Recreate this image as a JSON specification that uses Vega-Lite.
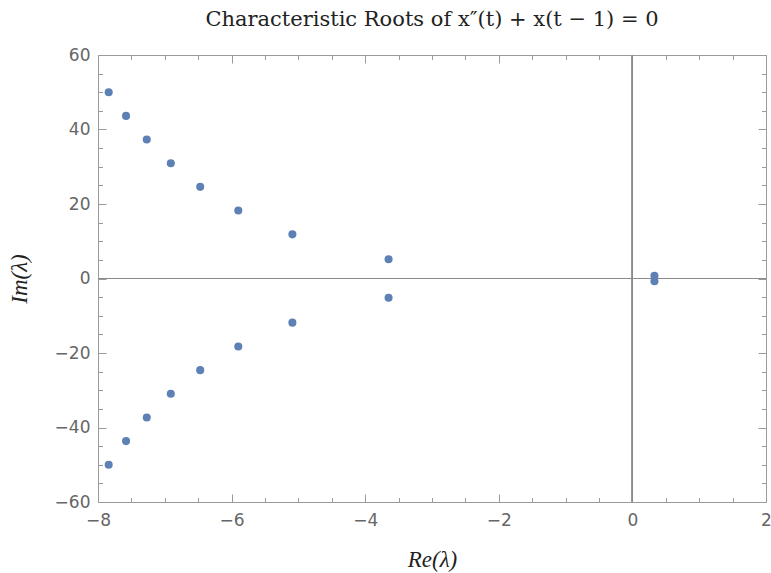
{
  "$schema": "https://vega.github.io/schema/vega-lite/v6.json",
  "width": 668,
  "height": 447,
  "autosize": {"type": "none"},
  "padding": {"left": 98, "top": 55, "right": 5, "bottom": 71},
  "background": "white",
  "config": {
    "view": {"stroke": "#9a9a9a", "strokeWidth": 1},
    "axis": {"domain": false, "grid": false, "tickColor": "#9a9a9a", "tickWidth": 1, "labelColor": "#666666", "labelFont": "DejaVu Sans", "labelFontSize": 17}
  },
  "title": {"text": "Characteristic Roots of x″(t) + x(t − 1) = 0", "font": "DejaVu Serif", "fontSize": 21, "fontWeight": "normal", "color": "#222222", "anchor": "middle", "offset": 16},
  "datasets": {
    "roots": [
      {"re": -7.84, "im": 50.0},
      {"re": -7.58, "im": 43.65},
      {"re": -7.27, "im": 37.3},
      {"re": -6.91, "im": 30.96},
      {"re": -6.47, "im": 24.6},
      {"re": -5.9, "im": 18.28},
      {"re": -5.09, "im": 11.85},
      {"re": -3.65, "im": 5.15},
      {"re": 0.33, "im": 0.76},
      {"re": -7.84, "im": -50.0},
      {"re": -7.58, "im": -43.65},
      {"re": -7.27, "im": -37.3},
      {"re": -6.91, "im": -30.96},
      {"re": -6.47, "im": -24.6},
      {"re": -5.9, "im": -18.28},
      {"re": -5.09, "im": -11.85},
      {"re": -3.65, "im": -5.15},
      {"re": 0.33, "im": -0.76}
    ]
  },
  "data": {"name": "roots"},
  "resolve": {"axis": {"x": "independent", "y": "independent"}},
  "layer": [
    {
      "mark": {"type": "rule", "color": "#8a8a8a", "strokeWidth": 1},
      "encoding": {"x": {"datum": 0, "type": "quantitative", "scale": {"domain": [-8, 2], "nice": false, "zero": false}, "axis": null}}
    },
    {
      "mark": {"type": "rule", "color": "#8a8a8a", "strokeWidth": 1},
      "encoding": {"y": {"datum": 0, "type": "quantitative", "scale": {"domain": [-60, 60], "nice": false, "zero": false}, "axis": null}}
    },
    {
      "mark": {"type": "point", "opacity": 0},
      "encoding": {
        "x": {"field": "re", "type": "quantitative", "scale": {"domain": [-8, 2], "nice": false, "zero": false}, "axis": {"orient": "bottom", "values": [-8, -6, -4, -2, 0, 2], "labels": false, "tickSize": -8, "title": null}},
        "y": {"field": "im", "type": "quantitative", "scale": {"domain": [-60, 60], "nice": false, "zero": false}, "axis": {"orient": "left", "values": [-60, -40, -20, 0, 20, 40, 60], "labels": false, "tickSize": -8, "title": null}}
      }
    },
    {
      "mark": {"type": "point", "opacity": 0},
      "encoding": {
        "x": {"field": "re", "type": "quantitative", "scale": {"domain": [-8, 2], "nice": false, "zero": false}, "axis": {"orient": "bottom", "values": [-7.5, -7, -6.5, -5.5, -5, -4.5, -3.5, -3, -2.5, -1.5, -1, -0.5, 0.5, 1, 1.5], "labels": false, "tickSize": -4.5, "title": null}},
        "y": {"field": "im", "type": "quantitative", "scale": {"domain": [-60, 60], "nice": false, "zero": false}, "axis": {"orient": "left", "values": [-55, -50, -45, -35, -30, -25, -15, -10, -5, 5, 10, 15, 25, 30, 35, 45, 50, 55], "labels": false, "tickSize": -4.5, "title": null}}
      }
    },
    {
      "mark": {"type": "point", "opacity": 0},
      "encoding": {
        "x": {"field": "re", "type": "quantitative", "scale": {"domain": [-8, 2], "nice": false, "zero": false}, "axis": {"orient": "top", "values": [-8, -6, -4, -2, 0, 2], "labels": false, "tickSize": -8, "title": null}},
        "y": {"field": "im", "type": "quantitative", "scale": {"domain": [-60, 60], "nice": false, "zero": false}, "axis": {"orient": "right", "values": [-60, -40, -20, 0, 20, 40, 60], "labels": false, "tickSize": -8, "title": null}}
      }
    },
    {
      "mark": {"type": "point", "opacity": 0},
      "encoding": {
        "x": {"field": "re", "type": "quantitative", "scale": {"domain": [-8, 2], "nice": false, "zero": false}, "axis": {"orient": "top", "values": [-7.5, -7, -6.5, -5.5, -5, -4.5, -3.5, -3, -2.5, -1.5, -1, -0.5, 0.5, 1, 1.5], "labels": false, "tickSize": -4.5, "title": null}},
        "y": {"field": "im", "type": "quantitative", "scale": {"domain": [-60, 60], "nice": false, "zero": false}, "axis": {"orient": "right", "values": [-55, -50, -45, -35, -30, -25, -15, -10, -5, 5, 10, 15, 25, 30, 35, 45, 50, 55], "labels": false, "tickSize": -4.5, "title": null}}
      }
    },
    {
      "mark": {"type": "point", "filled": true, "size": 65, "color": "#5E81B5", "opacity": 1},
      "encoding": {
        "x": {"field": "re", "type": "quantitative", "scale": {"domain": [-8, 2], "nice": false, "zero": false}, "axis": {"orient": "bottom", "values": [-8, -6, -4, -2, 0, 2], "ticks": false, "labelPadding": 10, "labelFlush": false, "title": "Re(λ)", "titleFont": "Liberation Serif", "titleFontStyle": "italic", "titleFontWeight": "normal", "titleFontSize": 23, "titleColor": "#222222", "titlePadding": 20}},
        "y": {"field": "im", "type": "quantitative", "scale": {"domain": [-60, 60], "nice": false, "zero": false}, "axis": {"orient": "left", "values": [-60, -40, -20, 0, 20, 40, 60], "ticks": false, "labelPadding": 8, "labelFlush": false, "title": "Im(λ)", "titleFont": "Liberation Serif", "titleFontStyle": "italic", "titleFontWeight": "normal", "titleFontSize": 23, "titleColor": "#222222", "titlePadding": 23}}
      }
    }
  ]
}
